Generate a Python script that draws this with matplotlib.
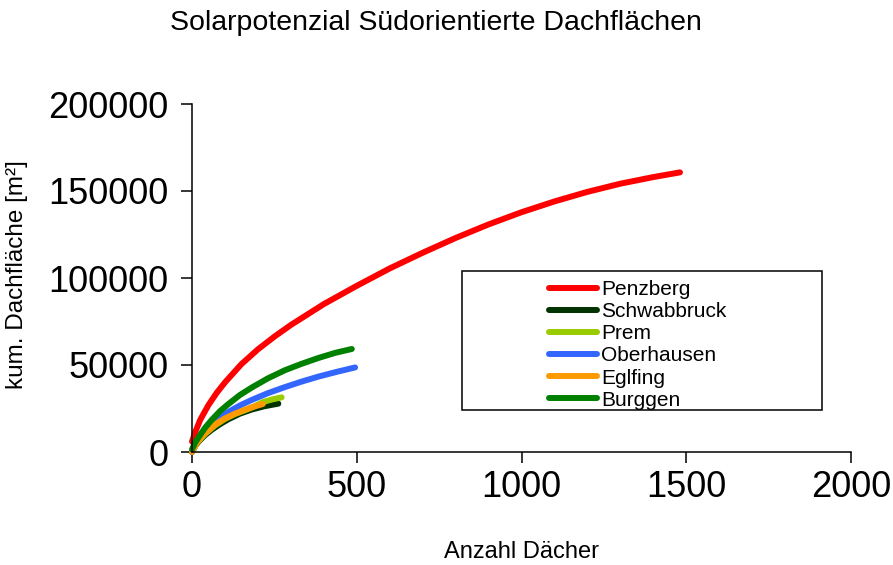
import matplotlib
matplotlib.use("Agg")
import matplotlib.pyplot as plt
from matplotlib.patches import Rectangle
from matplotlib.transforms import Bbox, TransformedBbox

plt.rcParams['font.family'] = ['Liberation Sans', 'DejaVu Sans']

# Werte (Anzahl Dächer, kum. Dachfläche m²)
penzberg_x = [0, 10, 25, 50, 75, 100, 150, 200, 250, 300, 400, 500, 600, 700, 800, 900,
              1000, 1100, 1200, 1300, 1400, 1481]
penzberg_y = [6000, 11500, 18500, 27000, 34000, 40000, 50500, 59000, 66300, 73000, 85000, 95500,
              105500, 114500, 123000, 130800, 137800, 144000, 149500, 154200, 158000, 160700]

schwabbruck_x = [0, 10, 20, 40, 60, 85, 110, 145, 181, 220, 262]
schwabbruck_y = [0, 3500, 6000, 9800, 12800, 16000, 18800, 22000, 24400, 26300, 27800]

prem_x = [0, 15, 40, 70, 100, 130, 161, 190, 215, 245, 272]
prem_y = [0, 5300, 10500, 15300, 19000, 21800, 24000, 26300, 28700, 30300, 31400]

oberhausen_x = [0, 10, 25, 50, 80, 110, 145, 181, 230, 282, 330, 383, 440, 495]
oberhausen_y = [0, 4500, 9000, 14300, 19200, 23000, 26700, 29900, 33800, 37300, 40300, 43300, 46100, 48600]

eglfing_x = [0, 15, 35, 70, 100, 130, 161, 190, 215]
eglfing_y = [0, 5500, 10000, 15800, 19300, 22000, 24300, 26200, 27600]

burggen_x = [0, 10, 20, 40, 60, 85, 110, 145, 181, 230, 282, 330, 383, 435, 485]
burggen_y = [1500, 5500, 8500, 14000, 18500, 23500, 27500, 32700, 37000, 42300, 47000, 50500, 54000,
             57000, 59200]

names = ["Penzberg", "Schwabbruck", "Prem", "Oberhausen", "Eglfing", "Burggen"]
colors = ["#ff0000", "#003300", "#99cc00", "#3366ff", "#ff9900", "#008000"]
xs = [penzberg_x, schwabbruck_x, prem_x, oberhausen_x, eglfing_x, burggen_x]
ys = [penzberg_y, schwabbruck_y, prem_y, oberhausen_y, eglfing_y, burggen_y]

W, H = 893, 565
fig = plt.figure(figsize=(W / 100, H / 100), dpi=100)
ax = fig.add_axes([192 / W, 1 - 452 / H, (851 - 192) / W, (452 - 104) / H])

for x, y, c, n in zip(xs, ys, colors, names):
    ax.plot(x, y, color=c, lw=4.3, solid_capstyle='round', solid_joinstyle='round',
            label=n, clip_on=False)

ax.set_xlim(0, 2000)
ax.set_ylim(0, 200000)
ax.set_xticks([0, 500, 1000, 1500, 2000])
ax.set_yticks([0, 50000, 100000, 150000, 200000])
ax.spines['top'].set_visible(False)
ax.spines['right'].set_visible(False)
ax.spines['left'].set_linewidth(1.1)
ax.spines['bottom'].set_linewidth(1.1)
ax.tick_params(direction='out', length=8, width=1.1, labelsize=26)
ax.tick_params(axis='y', pad=9)
ax.tick_params(axis='x', pad=5)

fig.text(436 / W, 1 - 23 / H, "Solarpotenzial Südorientierte Dachflächen", ha='center', va='center', fontsize=20.5)
fig.text(521 / W, 1 - 552 / H, "Anzahl Dächer", ha='center', va='center', fontsize=17)
fig.text(17 / W, 1 - 275 / H, "kum. Dachfläche [m²]", ha='center', va='center', rotation=90, fontsize=17.5)

# Legendenrahmen wie im Original (unterer Eintrag abgeschnitten)
x0, y0, x1, y1 = 462 / W, 1 - 410 / H, 822 / W, 1 - 271 / H
fig.patches.append(Rectangle((x0, y0), x1 - x0, y1 - y0, transform=fig.transFigure,
                             fill=False, ec='black', lw=1.1))
leg = ax.legend(loc='upper left', bbox_to_anchor=(549 / W, 1 - 280 / H), bbox_transform=fig.transFigure,
                frameon=False, fontsize=15, handlelength=2.3, handletextpad=0.2,
                labelspacing=0.15, borderpad=0, borderaxespad=0)
clip = TransformedBbox(Bbox([[x0, y0], [x1, y1]]), fig.transFigure)
for t in leg.get_texts():
    t.set_clip_box(clip)
    t.set_clip_on(True)

fig.savefig("out.png", dpi=100)
